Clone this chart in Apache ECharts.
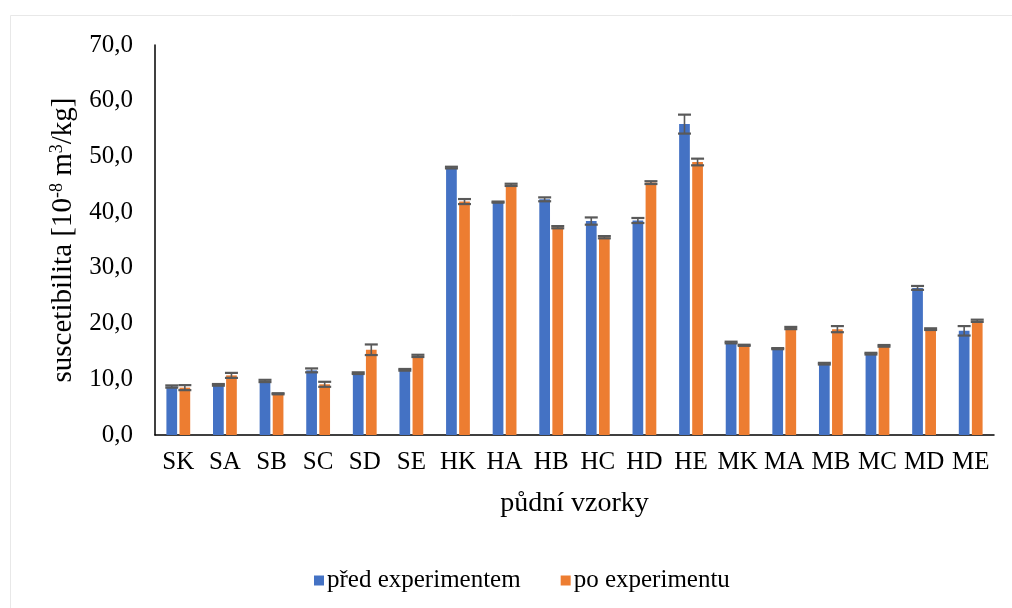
<!DOCTYPE html>
<html>
<head>
<meta charset="utf-8">
<script src="https://cdn.jsdelivr.net/npm/echarts@6/dist/echarts.min.js"></script>
<style>html,body{margin:0;padding:0;background:#fff;}#c{width:1012px;height:608px;}</style>
</head>
<body>
<div id="c"></div>
<script>
const categories = ['SK','SA','SB','SC','SD','SE','HK','HA','HB','HC','HD','HE','MK','MA','MB','MC','MD','ME'];
const before = [8.7, 9.0, 9.7, 11.6, 11.1, 11.7, 48.0, 41.8, 42.3, 38.4, 38.5, 55.8, 16.6, 15.5, 12.8, 14.6, 26.4, 18.7];
const beforeErr = [0.2, 0.15, 0.2, 0.35, 0.15, 0.15, 0.15, 0.1, 0.35, 0.65, 0.45, 1.7, 0.15, 0.1, 0.15, 0.15, 0.35, 0.85];
const after = [8.5, 10.7, 7.4, 9.1, 15.3, 14.2, 41.9, 44.9, 37.3, 35.5, 45.3, 49.0, 16.1, 19.2, 19.0, 16.0, 19.0, 20.5];
const afterErr = [0.45, 0.45, 0.1, 0.45, 0.95, 0.2, 0.45, 0.2, 0.2, 0.2, 0.25, 0.6, 0.1, 0.2, 0.55, 0.15, 0.15, 0.2];
const seriesNames = ['před experimentem', 'po experimentu'];
const yTicks = {min: 0, max: 70, interval: 10};

const FONT = 'Liberation Serif';
const BAR_W = 0.23, BAR_GAP = 0.22;
const chart = echarts.init(document.getElementById('c'));

function errSeries(vals, errs, sign) {
  return {
    type: 'custom',
    coordinateSystem: 'cartesian2d',
    z: 10,
    silent: true,
    data: vals.map((v, i) => [i, v, errs[i]]),
    encode: {x: 0, y: 1},
    renderItem: function (params, api) {
      const i = api.value(0), v = api.value(1), e = api.value(2);
      const band = api.size([1, 0])[0];
      const off = sign * band * BAR_W * (1 + BAR_GAP) / 2;
      const hi = api.coord([i, v + e]);
      const lo = api.coord([i, v - e]);
      const x = hi[0] + off;
      const hw = 6.5;
      const st = {stroke: '#595959', lineWidth: 2.2};
      return {
        type: 'group',
        children: [
          {type: 'line', shape: {x1: x, y1: hi[1], x2: x, y2: lo[1]}, style: {stroke: '#595959', lineWidth: 1.6}},
          {type: 'line', shape: {x1: x - hw, y1: hi[1], x2: x + hw, y2: hi[1]}, style: st},
          {type: 'line', shape: {x1: x - hw, y1: lo[1], x2: x + hw, y2: lo[1]}, style: st}
        ]
      };
    }
  };
}

chart.setOption({
  animation: false,
  backgroundColor: '#fff',
  textStyle: {fontFamily: FONT},
  graphic: [{
    type: 'rect', left: 8, top: 13, shape: {x: 0, y: 0, width: 1200, height: 800},
    style: {fill: 'none', stroke: '#e8e8e8', lineWidth: 1}, silent: true, z: -1
  }],
  grid: {left: 155, right: 18, top: 45, bottom: 173, containLabel: false},
  legend: {
    data: seriesNames,
    left: 309, top: 563,
    itemWidth: 10, itemHeight: 10, itemGap: 40,
    icon: 'rect',
    textStyle: {fontFamily: FONT, fontSize: 25, color: '#000', padding: [0, 0, 0, -2]}
  },
  xAxis: {
    type: 'category',
    data: categories,
    axisLine: {lineStyle: {color: '#000', width: 1.5}},
    axisTick: {show: false},
    axisLabel: {fontFamily: FONT, fontSize: 25, color: '#000', margin: 15, interval: 0},
    name: 'půdní vzorky',
    nameLocation: 'middle',
    nameGap: 55,
    nameTextStyle: {fontFamily: FONT, fontSize: 28, color: '#000'}
  },
  yAxis: {
    type: 'value',
    min: yTicks.min, max: yTicks.max, interval: yTicks.interval,
    axisLine: {show: true, lineStyle: {color: '#000', width: 1.5}},
    axisTick: {show: false},
    splitLine: {show: false},
    axisLabel: {fontFamily: FONT, fontSize: 25, color: '#000', margin: 22,
      formatter: v => v.toFixed(1).replace('.', ',')},
    name: '{t|suscetibilita [10}{s|-8}{t| m}{s|3}{t|/kg]}',
    nameLocation: 'middle',
    nameRotate: 90,
    nameGap: 74,
    nameTextStyle: {
      fontFamily: FONT, fontSize: 29, color: '#000',
      rich: {
        t: {fontFamily: FONT, fontSize: 29, color: '#000', lineHeight: 32, verticalAlign: 'middle'},
        s: {fontFamily: FONT, fontSize: 18, color: '#000', lineHeight: 18, verticalAlign: 'top'}
      }
    }
  },
  series: [
    {name: seriesNames[0], type: 'bar', data: before, barWidth: (BAR_W * 100) + '%', barGap: (BAR_GAP * 100) + '%',
      itemStyle: {color: '#4472C4'}},
    {name: seriesNames[1], type: 'bar', data: after, barWidth: (BAR_W * 100) + '%', barGap: (BAR_GAP * 100) + '%',
      itemStyle: {color: '#ED7D31'}},
    errSeries(before, beforeErr, -1),
    errSeries(after, afterErr, 1)
  ]
});
</script>
</body>
</html>
